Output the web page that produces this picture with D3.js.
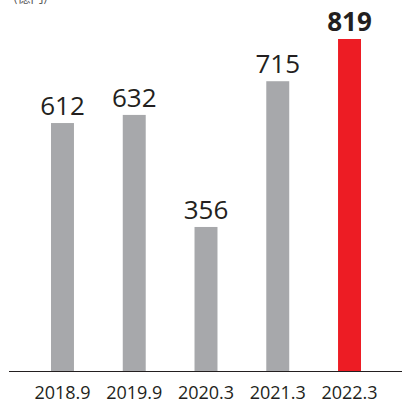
<!DOCTYPE html>
<html>
<head>
<meta charset="utf-8">
<script src="https://cdn.jsdelivr.net/npm/d3@7"></script>
<style>
  html, body { margin: 0; padding: 0; background: #fff; }
  svg { display: block; }
</style>
</head>
<body>
<svg id="chart" width="403" height="403"></svg>
<script>
// Fiscal period labels and values (億円)
const periods = ["2018.9", "2019.9", "2020.3", "2021.3", "2022.3"];
const values = [612, 632, 356, 715, 819];
const highlight = ["2022.3"];
const unitLabel = "(億円)";

const svg = d3.select("#chart");
const baseY = 371.5;

const x = d3.scaleBand()
  .domain(periods)
  .range([26.6, 385.4])
  .paddingInner(0.68)
  .paddingOuter(0.34);

const y = d3.scaleLinear()
  .domain([0, 819])
  .range([baseY, 39]);

const grey = "#a7a8ab";
const red = "#ed1c24";
const ink = "#231f20";
const font = "'Open Sans', 'Noto Sans', sans-serif";

// unit label, partly above the top edge
svg.append("text")
  .attr("x", 13)
  .attr("y", 2)
  .attr("font-family", "'Noto Sans CJK JP', sans-serif")
  .attr("font-size", 13)
  .attr("fill", "#555")
  .text(unitLabel);

const data = periods.map((p, i) => ({ p, v: values[i], hi: highlight.includes(p) }));

svg.selectAll("rect.bar")
  .data(data)
  .join("rect")
  .attr("class", "bar")
  .attr("x", d => x(d.p))
  .attr("width", x.bandwidth())
  .attr("y", d => y(d.v))
  .attr("height", d => baseY - y(d.v))
  .attr("fill", d => d.hi ? red : grey);

svg.selectAll("text.val")
  .data(data)
  .join("text")
  .attr("class", "val")
  .attr("x", d => x(d.p) + x.bandwidth() / 2)
  .attr("y", d => y(d.v) - 8)
  .attr("text-anchor", "middle")
  .attr("font-family", font)
  .attr("font-size", 26)
  .attr("font-weight", d => d.hi ? 700 : 400)
  .attr("fill", ink)
  .text(d => d.v);

// baseline axis with period labels
const axis = svg.append("g")
  .attr("transform", `translate(0,${baseY})`)
  .call(d3.axisBottom(x).tickSize(0).tickPadding(15));
axis.select(".domain").remove();
axis.selectAll("text")
  .attr("font-family", font)
  .attr("font-size", 18)
  .attr("fill", ink);

svg.append("line")
  .attr("x1", 9).attr("x2", 402)
  .attr("y1", baseY).attr("y2", baseY)
  .attr("stroke", ink)
  .attr("stroke-width", 1.2);
</script>
</body>
</html>
